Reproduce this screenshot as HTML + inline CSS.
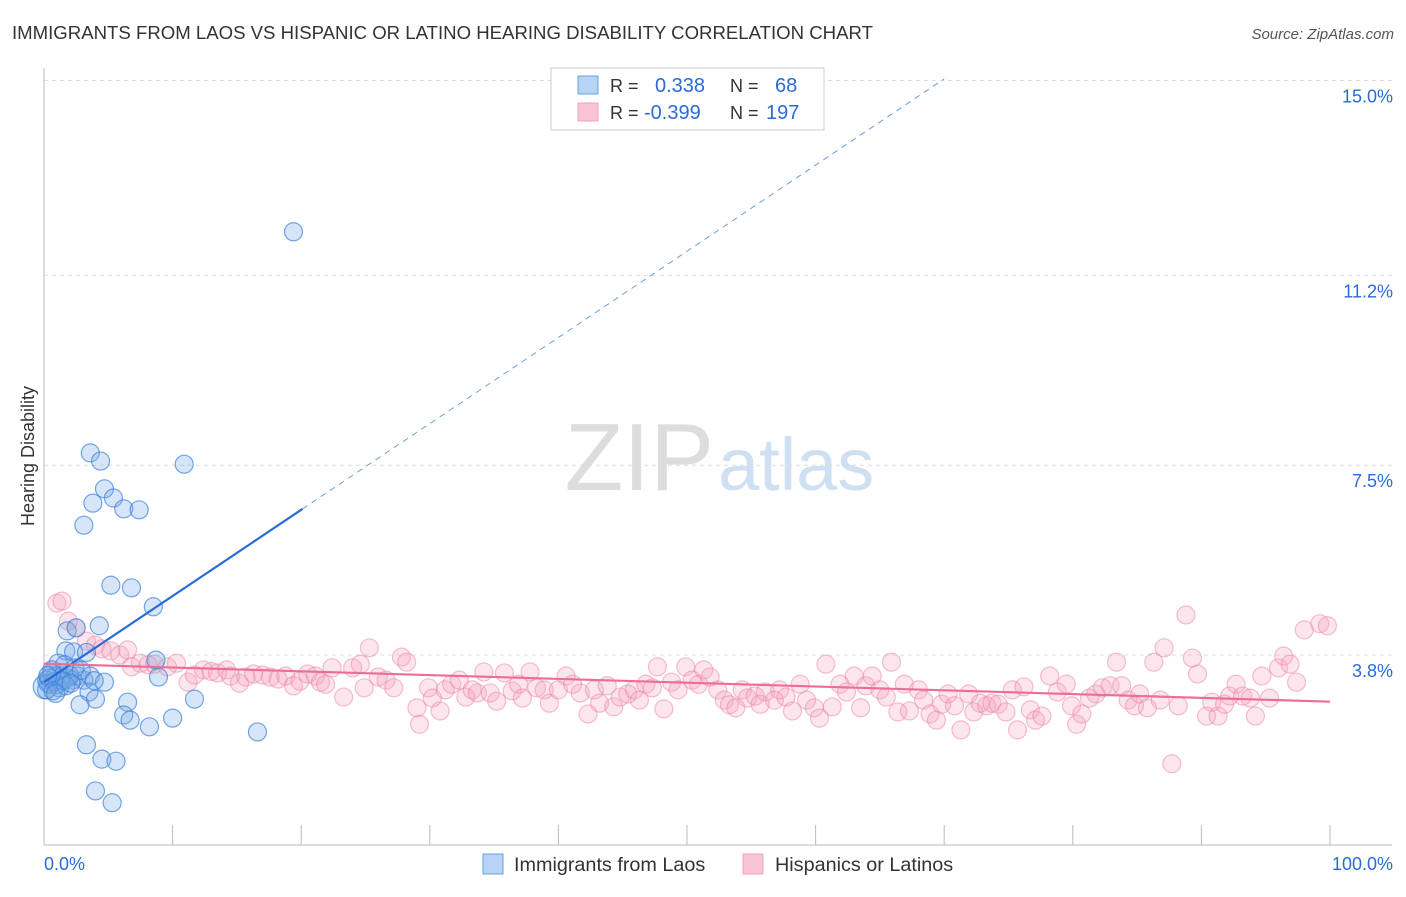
<!DOCTYPE html>
<html><head><meta charset="utf-8">
<style>
body{margin:0;background:#fff;font-family:"Liberation Sans",sans-serif;}
svg text{font-family:"Liberation Sans",sans-serif;}
</style></head>
<body>
<svg id="chart" width="1406" height="892" xmlns="http://www.w3.org/2000/svg">
<text x="12" y="39" font-size="18.6" fill="#333">IMMIGRANTS FROM LAOS VS HISPANIC OR LATINO HEARING DISABILITY CORRELATION CHART</text>
<text x="1394" y="39" font-size="15" fill="#555" text-anchor="end" font-style="italic">Source: ZipAtlas.com</text>
<text x="714" y="490" font-size="96" fill="#ddd" text-anchor="end" font-family="Liberation Serif">ZIP</text>
<text x="718" y="490" font-size="74" fill="#cfe0f3">atlas</text>
<g id="grid"></g>
<g id="axes"></g>
<g id="pinkpts"></g>
<g id="bluepts"></g>
<g id="trend"></g>
<text transform="translate(34,456) rotate(-90)" font-size="18" fill="#333" text-anchor="middle">Hearing Disability</text>
<g>
<rect x="551" y="68" width="273" height="62" fill="#fff" stroke="#ccc"/>
<rect x="578" y="76" width="20" height="18" fill="#b7d3f5" stroke="#6a9fe0"/>
<rect x="578" y="103" width="20" height="18" fill="#f9c4d3" stroke="#f0a0b8"/>
<text x="610" y="92" font-size="18" fill="#333">R =</text>
<text x="655" y="92" font-size="20" fill="#2a6bd6">0.338</text>
<text x="730" y="92" font-size="18" fill="#333">N =</text>
<text x="775" y="92" font-size="20" fill="#2a6bd6">68</text>
<text x="610" y="119" font-size="18" fill="#333">R =</text>
<text x="644" y="119" font-size="20" fill="#2a6bd6">-0.399</text>
<text x="730" y="119" font-size="18" fill="#333">N =</text>
<text x="766" y="119" font-size="20" fill="#2a6bd6">197</text>
</g>
<g>
<rect x="483" y="854" width="20" height="20" fill="#b7d3f5" stroke="#6a9fe0"/>
<text x="514" y="871" font-size="19.8" fill="#333">Immigrants from Laos</text>
<rect x="743" y="854" width="20" height="20" fill="#f9c4d3" stroke="#f0a0b8"/>
<text x="775" y="871" font-size="19.8" fill="#333">Hispanics or Latinos</text>
</g>
</svg>
<script>
const yTicks=[3.8,7.5,11.2,15.0];
const yTickLabels=["3.8%","7.5%","11.2%","15.0%"];
const xEndLabels=["0.0%","100.0%"];
const blueX=[19.4,3.6,4.4,10.9,4.7,3.8,5.4,6.2,7.4,3.1,5.2,6.8,8.5,4.3,1.8,2.5,1.7,2.3,1.1,0.6,0.2,0.5,0.9,1.4,1.9,2.2,2.6,3.1,3.6,1.2,1.6,8.7,8.9,4.7,3.5,4.0,2.8,6.5,11.7,6.2,6.7,8.2,10.0,16.6,3.3,4.5,5.6,4.0,5.3,0.1,0.3,0.4,0.8,1.0,1.5,2.0,0.2,0.6,1.3,2.4,2.9,3.3,0.7,1.7,0.3,2.1,3.9,0.9];
const blueY=[12.05,7.74,7.58,7.52,7.04,6.76,6.86,6.65,6.63,6.33,5.16,5.11,4.74,4.37,4.27,4.33,3.88,3.86,3.64,3.51,3.31,3.22,3.39,3.39,3.35,3.31,3.39,3.31,3.39,3.16,3.61,3.70,3.37,3.27,3.08,2.94,2.83,2.88,2.94,2.63,2.53,2.40,2.57,2.30,2.05,1.77,1.73,1.15,0.92,3.18,3.25,3.35,3.28,3.22,3.30,3.40,3.12,3.45,3.30,3.55,3.50,3.85,3.10,3.20,3.40,3.25,3.30,3.05];
const pinkX=[1.0,1.4,1.9,2.5,3.3,4.0,4.5,5.2,5.9,6.5,6.8,7.5,8.1,8.6,9.6,10.3,11.2,11.7,12.4,13.0,13.5,14.2,14.5,15.2,15.7,16.3,17.0,17.6,18.2,18.8,19.4,19.9,20.5,21.1,21.5,21.9,22.4,23.3,24.0,24.6,24.9,25.3,26.0,26.6,27.2,27.8,28.2,29.0,29.2,29.9,30.2,30.8,31.2,31.7,32.3,32.8,33.3,33.7,34.2,34.7,35.2,35.8,36.4,36.9,37.2,37.8,38.3,38.9,39.3,40.0,40.6,41.1,41.7,42.3,42.8,43.2,43.8,44.3,44.8,45.4,45.9,46.3,46.8,47.3,47.7,48.2,48.8,49.3,49.9,50.4,50.9,51.3,51.8,52.4,52.9,53.3,53.8,54.3,54.7,55.3,55.7,56.1,56.8,57.2,57.7,58.2,58.8,59.3,59.9,60.3,60.8,61.3,61.9,62.4,63.0,63.5,63.9,64.4,65.0,65.5,65.9,66.4,66.9,67.3,68.0,68.4,68.9,69.4,69.8,70.3,70.8,71.3,71.9,72.3,72.8,73.3,73.7,74.2,74.8,75.3,75.7,76.2,76.7,77.1,77.6,78.2,78.8,79.5,79.9,80.3,80.7,81.3,81.8,82.3,82.9,83.4,83.8,84.3,84.8,85.2,85.8,86.3,86.8,87.1,87.7,88.2,88.8,89.3,89.7,90.4,90.8,91.3,91.8,92.2,92.7,93.2,93.8,94.2,94.7,95.3,96.0,96.4,96.9,97.4,98.0,99.2,99.8];
const pinkY=[4.81,4.85,4.46,4.33,4.07,3.99,3.92,3.88,3.80,3.90,3.57,3.64,3.61,3.62,3.57,3.64,3.27,3.41,3.51,3.48,3.45,3.51,3.39,3.25,3.37,3.43,3.41,3.37,3.33,3.39,3.20,3.29,3.43,3.39,3.27,3.23,3.55,2.98,3.55,3.62,3.16,3.94,3.37,3.31,3.16,3.76,3.66,2.77,2.45,3.16,2.96,2.71,3.12,3.23,3.31,2.98,3.12,3.06,3.47,3.06,2.90,3.45,3.10,3.23,2.96,3.47,3.16,3.12,2.86,3.12,3.39,3.23,3.06,2.65,3.12,2.86,3.20,2.79,2.98,3.04,3.12,2.92,3.23,3.16,3.57,2.75,3.27,3.12,3.57,3.31,3.23,3.51,3.37,3.12,2.92,2.83,2.77,3.12,2.96,3.00,2.84,3.08,2.92,3.12,2.98,2.71,3.23,2.92,2.77,2.57,3.62,2.79,3.23,3.08,3.39,2.77,3.20,3.39,3.12,2.98,3.66,2.69,3.23,2.71,3.12,2.92,2.65,2.53,2.84,3.04,2.81,2.34,3.04,2.69,2.86,2.81,2.86,2.84,2.69,3.12,2.34,3.18,2.73,2.53,2.61,3.39,3.08,3.23,2.81,2.45,2.65,2.96,3.04,3.16,3.20,3.66,3.20,2.92,2.81,3.04,2.77,3.66,2.92,3.94,1.68,2.81,4.58,3.74,3.43,2.61,2.88,2.61,2.84,3.00,3.23,3.00,2.96,2.61,3.39,2.96,3.55,3.78,3.62,3.27,4.29,4.41,4.37];
const blueTrend=[3.27,0.168];
const pinkTrend=[3.63,-0.0074];

const NS="http://www.w3.org/2000/svg";
const X=v=>44+v*12.86;
const Y=v=>655-(v-3.8)*51.3;
function mk(tag,attrs,parent){const e=document.createElementNS(NS,tag);for(const k in attrs)e.setAttribute(k,attrs[k]);parent.appendChild(e);return e;}
const grid=document.getElementById('grid'),axes=document.getElementById('axes');
yTicks.forEach((t,i)=>{
  const l=mk('line',{x1:44,x2:1392,y1:Y(t),y2:Y(t),stroke:'#ddd','stroke-dasharray':'4,4'},grid);
  
  
  const tx=mk('text',{x:1393,y:Y(t)+22,'font-size':18,fill:'#2a6bd6','text-anchor':'end'},axes);
  tx.textContent=yTickLabels[i];
  
  
});
mk('line',{x1:44,x2:44,y1:68,y2:845,stroke:'#bbb'},axes);
mk('line',{x1:44,x2:1392,y1:845,y2:845,stroke:'#bbb'},axes);
for(let i=0;i<=10;i++){
  const tk=mk('line',{x1:X(i*10),x2:X(i*10),y1:825,y2:845,stroke:'#bbb'},axes);
  
  
}
const xl0=mk('text',{x:44,y:870,'font-size':18,fill:'#2a6bd6'},axes);xl0.textContent=xEndLabels[0];


const xl1=mk('text',{x:1393,y:870,'font-size':18,fill:'#2a6bd6','text-anchor':'end'},axes);xl1.textContent=xEndLabels[1];



const pg=document.getElementById('pinkpts');
pinkX.forEach((x,i)=>{
  const c=mk('circle',{cx:X(x),cy:Y(pinkY[i]),r:9,fill:'rgba(244,160,188,0.28)',stroke:'rgba(236,130,165,0.5)','stroke-width':1.2},pg);
  
  
});
const bg=document.getElementById('bluepts');
blueX.forEach((x,i)=>{
  const c=mk('circle',{cx:X(x),cy:Y(blueY[i]),r:i===49?12:9,fill:'rgba(120,170,230,0.3)',stroke:'rgba(60,130,220,0.7)','stroke-width':1.2},bg);
  
  
});
const tg=document.getElementById('trend');
const bf=x=>blueTrend[0]+blueTrend[1]*x, pf=x=>pinkTrend[0]+pinkTrend[1]*x;
const b1=mk('line',{x1:X(0),y1:Y(bf(0)),x2:X(20.1),y2:Y(bf(20.1)),stroke:'#2a6bd6','stroke-width':2.2},tg);


const b2=mk('line',{x1:X(20.1),y1:Y(bf(20.1)),x2:X(70),y2:Y(bf(70)),stroke:'#6a9fe0','stroke-width':1,'stroke-dasharray':'6,5'},tg);


const p1=mk('line',{x1:X(0),y1:Y(pf(0)),x2:X(100),y2:Y(pf(100)),stroke:'#ec6d96','stroke-width':2.2},tg);


</script>
</body></html>
